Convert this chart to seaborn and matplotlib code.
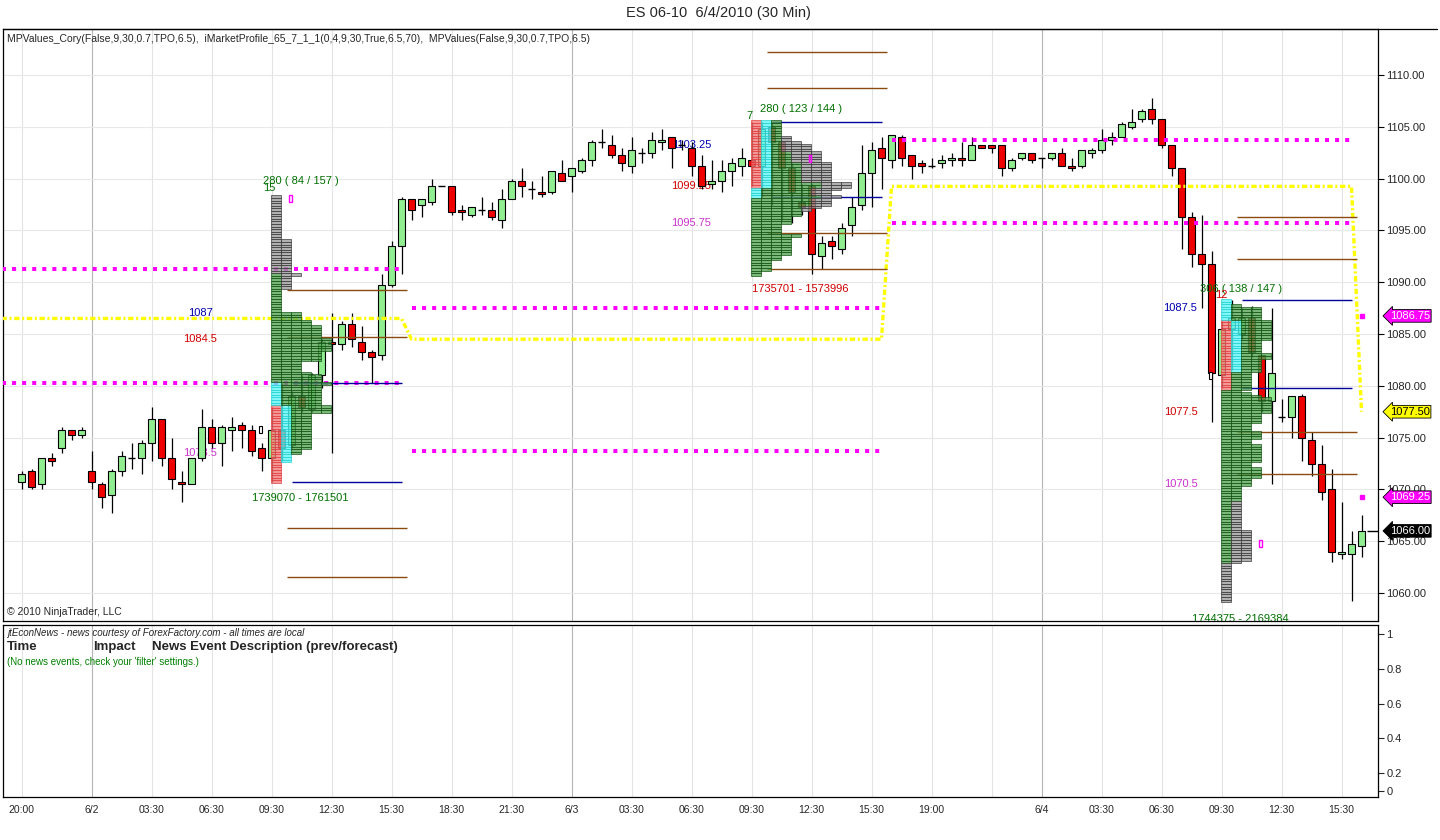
import numpy as np
import matplotlib
matplotlib.use("Agg")
import matplotlib.pyplot as plt
import seaborn as sns
from matplotlib.patches import Rectangle
from matplotlib.transforms import blended_transform_factory
from matplotlib.lines import Line2D

sns.set_style("white")
plt.rcParams['font.family'] = ['Liberation Sans', 'DejaVu Sans']

# ---------------- data (30-min ES bars) ----------------
opens = [1070.75, 1071.75, 1070.5, 1073.0, 1074.0, 1075.75, 1075.25, 1071.75, 1070.5, 1069.5,
         1071.75, 1073.0, 1073.0, 1074.5, 1076.75, 1073.0, 1070.75, 1070.5, 1073.0, 1076.0,
         1074.5, 1075.75, 1076.25, 1075.75, 1074.0, 1073.0, 1075.75, 1074.25, 1079.0, 1077.75,
         1081.0, 1084.25, 1084.0, 1086.0, 1084.25, 1083.25, 1083.0, 1089.75, 1093.5, 1098.0,
         1097.5, 1097.75, 1099.25, 1099.25, 1097.0, 1096.5, 1097.0, 1097.0, 1096.0, 1098.0,
         1099.75, 1099.0, 1098.75, 1098.75, 1100.5, 1100.25, 1100.75, 1101.75, 1103.5, 1103.25,
         1102.25, 1101.25, 1102.5, 1102.5, 1103.5, 1104.0, 1103.25, 1103.0, 1101.25, 1099.5,
         1099.75, 1100.75, 1101.25, 1101.75, 1101.25, 1105.0, 1103.5, 1101.0, 1097.75, 1099.25,
         1092.5, 1094.0, 1093.25, 1095.5, 1097.5, 1100.5, 1103.0, 1101.75, 1104.0, 1102.25,
         1101.5, 1101.25, 1101.5, 1101.75, 1102.0, 1101.75, 1103.25, 1103.25, 1103.25, 1101.0,
         1102.0, 1102.5, 1102.0, 1102.0, 1102.5, 1101.25, 1101.25, 1102.5, 1102.75, 1103.75,
         1104.0, 1105.0, 1105.75, 1106.75, 1105.75, 1103.25, 1101.0, 1096.25, 1092.75, 1091.75,
         1081.0, 1085.5, 1085.0, 1086.5, 1083.0, 1078.5, 1077.0, 1077.0, 1079.0, 1074.75,
         1072.5, 1070.0, 1063.75, 1063.75, 1064.5]
highs = [1071.75, 1072.0, 1073.0, 1073.5, 1076.0, 1075.75, 1076.0, 1073.75, 1070.75, 1072.0,
         1073.75, 1074.5, 1074.75, 1078.0, 1076.75, 1075.0, 1071.75, 1073.0, 1077.75, 1076.75,
         1076.25, 1077.0, 1076.5, 1076.25, 1074.5, 1078.0, 1080.25, 1079.5, 1081.0, 1081.25,
         1084.5, 1087.0, 1086.25, 1087.0, 1085.75, 1083.5, 1090.75, 1094.0, 1098.25, 1098.0,
         1098.0, 1100.0, 1099.25, 1099.25, 1097.5, 1097.25, 1098.25, 1097.75, 1099.0, 1100.0,
         1101.0, 1099.75, 1100.25, 1100.75, 1101.75, 1101.0, 1102.0, 1103.75, 1104.75, 1104.25,
         1103.0, 1104.0, 1103.0, 1104.5, 1104.75, 1104.0, 1103.75, 1103.5, 1102.25, 1101.75,
         1101.75, 1102.0, 1103.0, 1105.5, 1105.5, 1105.5, 1102.5, 1101.5, 1099.5, 1099.5,
         1094.5, 1094.5, 1095.75, 1098.25, 1103.25, 1103.5, 1104.0, 1104.25, 1104.25, 1102.25,
         1101.75, 1102.0, 1102.25, 1102.5, 1103.5, 1104.0, 1103.25, 1103.25, 1103.25, 1102.0,
         1102.5, 1102.5, 1102.0, 1102.5, 1103.0, 1102.0, 1102.75, 1103.0, 1104.75, 1104.5,
         1105.5, 1106.75, 1106.75, 1107.75, 1105.75, 1103.25, 1101.0, 1096.75, 1096.5, 1093.0,
         1086.25, 1088.25, 1087.5, 1087.75, 1083.0, 1087.5, 1078.75, 1079.0, 1079.25, 1075.5,
         1074.25, 1072.0, 1068.75, 1066.0, 1067.5]
lows = [1070.0, 1070.0, 1070.0, 1072.25, 1073.5, 1074.75, 1075.0, 1070.0, 1068.25, 1067.75,
        1071.25, 1072.0, 1071.5, 1072.75, 1072.25, 1070.0, 1068.75, 1070.5, 1072.75, 1074.0,
        1072.25, 1073.75, 1074.0, 1073.25, 1071.75, 1070.75, 1072.75, 1074.0, 1077.5, 1077.5,
        1079.75, 1073.5, 1083.5, 1083.75, 1082.5, 1080.25, 1082.5, 1089.5, 1090.75, 1096.0,
        1096.25, 1097.5, 1099.25, 1096.5, 1096.0, 1096.25, 1096.5, 1096.0, 1095.25, 1098.0,
        1098.25, 1098.0, 1098.25, 1098.5, 1099.75, 1098.75, 1100.5, 1101.25, 1103.0, 1102.0,
        1100.75, 1100.5, 1101.5, 1102.0, 1102.75, 1101.0, 1102.75, 1100.25, 1099.0, 1099.0,
        1098.75, 1099.25, 1100.25, 1099.25, 1098.25, 1097.5, 1096.0, 1095.75, 1096.5, 1090.75,
        1091.25, 1092.25, 1092.75, 1094.5, 1097.0, 1097.25, 1099.0, 1101.0, 1101.25, 1100.0,
        1100.5, 1101.0, 1101.0, 1101.25, 1101.25, 1101.75, 1103.0, 1102.5, 1100.25, 1100.75,
        1101.75, 1101.5, 1101.0, 1101.75, 1101.25, 1100.75, 1101.0, 1102.0, 1102.5, 1103.25,
        1104.0, 1104.75, 1105.5, 1105.25, 1103.0, 1100.25, 1093.25, 1091.5, 1087.5, 1076.5,
        1079.75, 1081.5, 1084.5, 1082.75, 1077.5, 1070.5, 1076.5, 1075.0, 1072.75, 1071.25,
        1069.0, 1063.0, 1063.25, 1059.25, 1063.5]
closes = [1071.5, 1070.25, 1073.0, 1072.75, 1075.75, 1075.25, 1075.75, 1070.75, 1069.25, 1071.75,
          1073.25, 1073.0, 1074.5, 1076.75, 1073.0, 1071.0, 1070.5, 1073.0, 1076.0, 1074.5,
          1076.0, 1076.0, 1075.75, 1073.75, 1073.0, 1075.75, 1074.0, 1079.0, 1078.0, 1081.0,
          1084.25, 1084.0, 1086.0, 1084.5, 1083.25, 1082.75, 1089.75, 1093.5, 1098.0, 1097.0,
          1098.0, 1099.25, 1099.25, 1096.75, 1096.75, 1097.25, 1097.0, 1096.25, 1098.0, 1099.75,
          1099.25, 1099.0, 1098.5, 1100.75, 1099.75, 1101.0, 1101.75, 1103.5, 1103.5, 1102.25,
          1101.5, 1102.75, 1102.5, 1103.75, 1103.75, 1103.0, 1103.25, 1101.25, 1099.25, 1099.75,
          1100.75, 1101.5, 1102.0, 1101.25, 1104.75, 1103.5, 1101.0, 1098.75, 1097.25, 1092.75,
          1093.75, 1093.5, 1095.25, 1097.25, 1100.5, 1102.75, 1102.0, 1104.25, 1102.0, 1101.25,
          1101.25, 1101.25, 1101.75, 1102.0, 1101.75, 1103.25, 1103.0, 1103.0, 1101.0, 1101.75,
          1102.5, 1101.75, 1102.0, 1102.5, 1101.25, 1101.0, 1102.75, 1102.75, 1103.75, 1104.0,
          1105.25, 1105.5, 1106.5, 1105.75, 1103.25, 1101.0, 1096.25, 1092.75, 1091.75, 1081.25,
          1085.5, 1086.5, 1086.5, 1083.25, 1078.5, 1081.25, 1077.0, 1079.0, 1075.0, 1072.5,
          1069.75, 1064.0, 1064.0, 1064.75, 1066.0]

tick_pos = [0, 7, 13, 19, 25, 31, 37, 43, 49, 55, 61, 67, 73, 79, 85, 91, 97, 102, 108, 114, 120, 126, 132]
tick_labels = ['20:00', '6/2', '03:30', '06:30', '09:30', '12:30', '15:30', '18:30', '21:30', '6/3',
               '03:30', '06:30', '09:30', '12:30', '15:30', '19:00', '', '6/4', '03:30', '06:30',
               '09:30', '12:30', '15:30']
day_sep = [7, 55, 102]
price_ticks = [1060, 1065, 1070, 1075, 1080, 1085, 1090, 1095, 1100, 1105, 1110]

# market-profile sessions (first bar, last bar) and first "late" (grey) period
sessions = [(25, 38), (73, 86), (120, 133)]
grey_from = [37, 84, 132]

# developing levels carried forward
poc_levels = [1086.5, 1084.5, 1099.25, 1077.5]
poc_spans = [(-2, 38), (39, 86), (87, 133), (134, 134)]
vah_levels = [1091.25, 1087.5, 1103.75]
val_levels = [1080.25, 1073.75, 1095.75]
va_spans = [(-2, 38), (39, 86), (87, 133)]
next_va = [1086.75, 1069.25]

ib_high = [1080.25, 1105.5, 1088.25]
ib_low = [1070.75, 1098.25, 1079.75]
ext_levels = [[1089.25, 1084.75, 1066.25, 1061.5],
              [1112.25, 1108.75, 1094.75, 1091.25],
              [1096.25, 1092.25, 1075.5, 1071.5]]

# value labels (x bar, text, price, colour)
value_labels = [(17.9, '1087', 1087.0, '#0000b0'), (17.9, '1084.5', 1084.5, '#d00000'),
                (17.9, '1073.5', 1073.5, '#cc33cc'),
                (67.0, '1103.25', 1103.25, '#0000b0'), (67.0, '1099.25', 1099.25, '#d00000'),
                (67.0, '1095.75', 1095.75, '#cc33cc'),
                (115.9, '1087.5', 1087.5, '#0000b0'), (115.9, '1077.5', 1077.5, '#d00000'),
                (115.9, '1070.5', 1070.5, '#cc33cc')]
header_labels = [(24.15, '280 ( 84 / 157 )', 1099.8, '#007000', 'left'),
                 (24.15, '15', 1099.05, '#007000', 'left'),
                 (72.8, '7', 1106.05, '#007000', 'center'),
                 (73.85, '280 ( 123 / 144 )', 1106.7, '#007000', 'left'),
                 (117.85, '306 ( 138 / 147 )', 1089.35, '#007000', 'left'),
                 (120.0, '12', 1088.75, '#d00000', 'center')]
volume_labels = [(27.85, '1739070 - 1761501', 1069.15, '#007000'),
                 (77.85, '1735701 - 1573996', 1089.3, '#d00000'),
                 (121.85, '1744375 - 2169384', 1057.5, '#007000')]
magenta_marks = [(26.9, 1098.05), (78.85, 1101.95), (123.9, 1064.75)]
white_marks = [(23.9, 1075.75), (118.9, 1081.0)]
price_tags = [(1086.75, '#ff00ff', 'white'), (1077.5, '#ffff00', 'black'),
              (1069.25, '#ff00ff', 'white'), (1066.0, 'black', 'white')]

# ---------------- figure ----------------
W, H = 1440, 840
fig = plt.figure(figsize=(W / 100, H / 100), dpi=100)
def fx(px): return px / W
def fy(py): return 1 - py / H

ax = fig.add_axes([fx(3), fy(621), fx(1378) - fx(3), fy(29) - fy(621)])
ax2 = fig.add_axes([fx(3), fy(797), fx(1378) - fx(3), fy(625) - fy(797)], sharex=ax)

XL = (-1.85, 135.65)
ax.set_xlim(*XL)
ax.set_ylim(1057.3, 1114.44)

# grid
for a in (ax, ax2):
    for t in tick_pos:
        a.axvline(t, color='#b5b5b5' if t in day_sep else '#e3e3e3', lw=0.8, zorder=0)
for p in price_ticks:
    ax.axhline(p, color='#e8e8e8', lw=0.8, zorder=0)

o = np.array(opens); h = np.array(highs); l = np.array(lows); c = np.array(closes)
idx = np.arange(len(o))

# candles
ax.vlines(idx, l, h, color='black', lw=0.9, zorder=3)
up = c > o
dn = c < o
dj = c == o
bb = np.minimum(o, c)
bh = np.abs(c - o)
ax.bar(idx[up], bh[up], bottom=bb[up], width=0.64, color='#90ee90', edgecolor='black', lw=0.8, zorder=3.2)
ax.bar(idx[dn], bh[dn], bottom=bb[dn], width=0.64, color='#ee0000', edgecolor='black', lw=0.8, zorder=3.2)
ax.hlines(c[dj], idx[dj] - 0.32, idx[dj] + 0.32, color='black', lw=1.0, zorder=3.2)

# VA (magenta) lines
dot_m = (0, (1, 1.5))
for (a, b), hi_, lo_ in zip(va_spans, vah_levels, val_levels):
    ax.plot([a, b], [hi_, hi_], color='#ff00ff', lw=2.9, ls=dot_m, zorder=3.5)
    ax.plot([a, b], [lo_, lo_], color='#ff00ff', lw=2.9, ls=dot_m, zorder=3.5)
ax.plot([134] * len(next_va), next_va, ls='none', marker='s', ms=3.3, color='#ff00ff', zorder=3.5)

# POC (yellow) line
px_, py_ = [], []
for (a, b), lv in zip(poc_spans, poc_levels):
    for k in range(a, b + 1):
        px_.append(k); py_.append(lv)
sns.lineplot(x=px_, y=py_, ax=ax, color='#ffff00', lw=2.4, linestyle=(0, (1.6, 0.8, 0.6, 0.8)),
             estimator=None, sort=False, zorder=3.5, legend=False)

# IB (blue) and extension (brown) lines
for (s, e), ih, il, exts in zip(sessions, ib_high, ib_low, ext_levels):
    ax.hlines([ih, il], s + 2, s + 13, color='#000099', lw=1.0, zorder=3.6)
    ax.hlines(exts, s + 1.5, s + 13.5, color='#8a4a10', lw=1.0, zorder=3.6)

# market profiles
groups = {'A': ([], []), 'B': ([], []), 'V': ([], []), 'G': ([], [])}
for (s, e), gf in zip(sessions, grey_from):
    lo = min(lows[s:e + 1]); hi = max(highs[s:e + 1])
    for p in np.arange(lo, hi + 0.001, 0.25):
        mem = [k for k in range(s, e + 1) if lows[k] <= p + 1e-9 and highs[k] >= p - 1e-9]
        for j, k in enumerate(mem):
            key = 'A' if k == s else 'B' if k == s + 1 else 'G' if k >= gf else 'V'
            groups[key][0].append(s + 0.45 + j)
            groups[key][1].append(p - 0.125)
styles = {'A': ('#f47a7a', '#e23a3a'), 'B': ('#5ff5f5', '#1fd0d0'),
          'V': ('#55a455', '#0d4d0d'), 'G': ('#9a9a9a', '#333333')}
for key, (xs, ys) in groups.items():
    fc, ec = styles[key]
    ax.bar(xs, [0.25] * len(xs), bottom=ys, width=1.0, color=fc, edgecolor=ec, lw=0.6,
           alpha=0.78, zorder=4)

# small markers
for (x, p) in magenta_marks:
    ax.add_patch(Rectangle((x - 0.13, p - 0.33), 0.26, 0.66, fill=False, ec='#ff00ff', lw=1, zorder=4.5))
for (x, p) in white_marks:
    ax.add_patch(Rectangle((x - 0.13, p - 0.33), 0.26, 0.66, fc='white', ec='black', lw=0.8, zorder=3.3))

# text labels
for x, t, p, col in value_labels:
    ax.text(x, p, t, color=col, fontsize=8, ha='center', va='center', zorder=2.9)
for x, t, p, col, ha in header_labels:
    ax.text(x, p, t, color=col, fontsize=8, ha=ha, va='center', zorder=5)
for x, t, p, col in volume_labels:
    ax.text(x, p, t, color=col, fontsize=8, ha='center', va='center', zorder=5, clip_on=True)

# last price stub
ax.hlines(closes[-1], len(closes) - 0.5, XL[1], color='black', lw=1, zorder=3)

# right axis
ax.yaxis.tick_right()
ax.set_yticks(price_ticks)
ax.set_yticklabels(['%.2f' % v for v in price_ticks])
ax.tick_params(axis='y', length=4, labelsize=8, pad=2, direction='out', color='black')
ax.tick_params(axis='x', length=0, labelbottom=False)
trans = blended_transform_factory(ax.transAxes, ax.transData)
for p, fc, tc in price_tags:
    ax.text(1.0085, p, '%.2f' % p, transform=trans, fontsize=8, color=tc, ha='left', va='center',
            zorder=6, clip_on=False,
            bbox=dict(boxstyle='larrow,pad=0.12', fc=fc, ec='black', lw=0.6))

for sp in ax.spines.values():
    sp.set_color('black'); sp.set_linewidth(0.9)

# news panel
ax2.set_ylim(0.062, 1.052)
ax2.yaxis.tick_right()
ax2.set_yticks([0.097, 0.2, 0.4, 0.6, 0.8, 1.0])
ax2.set_yticklabels(['0', '0.2', '0.4', '0.6', '0.8', '1'])
ax2.tick_params(axis='y', length=4, labelsize=8, pad=2)
ax2.set_xticks(tick_pos)
ax2.set_xticklabels(tick_labels)
ax2.tick_params(axis='x', length=4, labelsize=7.5, pad=2)
for sp in ax2.spines.values():
    sp.set_color('black'); sp.set_linewidth(0.9)

# frame line across top
fig.add_artist(Line2D([fx(3), fx(1437)], [fy(29), fy(29)], color='black', lw=0.9))

# figure texts
fig.text(fx(718), fy(13), 'ES 06-10  6/4/2010 (30 Min)', ha='center', va='center', fontsize=10.5)
fig.text(fx(7), fy(39), 'MPValues_Cory(False,9,30,0.7,TPO,6.5),  iMarketProfile_65_7_1_1(0,4,9,30,True,6.5,70),  '
         'MPValues(False,9,30,0.7,TPO,6.5)', ha='left', va='center', fontsize=7.5)
fig.text(fx(7), fy(612), '\u00a9 2010 NinjaTrader, LLC', ha='left', va='center', fontsize=7.5)
fig.text(fx(7), fy(633), 'jtEconNews - news courtesy of ForexFactory.com - all times are local',
         ha='left', va='center', fontsize=7, style='italic')
fig.text(fx(7), fy(647), 'Time', ha='left', va='center', fontsize=9.5, weight='bold')
fig.text(fx(93), fy(647), 'Impact', ha='left', va='center', fontsize=9.5, weight='bold')
fig.text(fx(152), fy(647), 'News Event Description (prev/forecast)', ha='left', va='center',
         fontsize=9.5, weight='bold')
fig.text(fx(7), fy(662), "(No news events, check your 'filter' settings.)", ha='left', va='center',
         fontsize=7, color='#008000')

fig.savefig('out.png', dpi=100, facecolor='white')
